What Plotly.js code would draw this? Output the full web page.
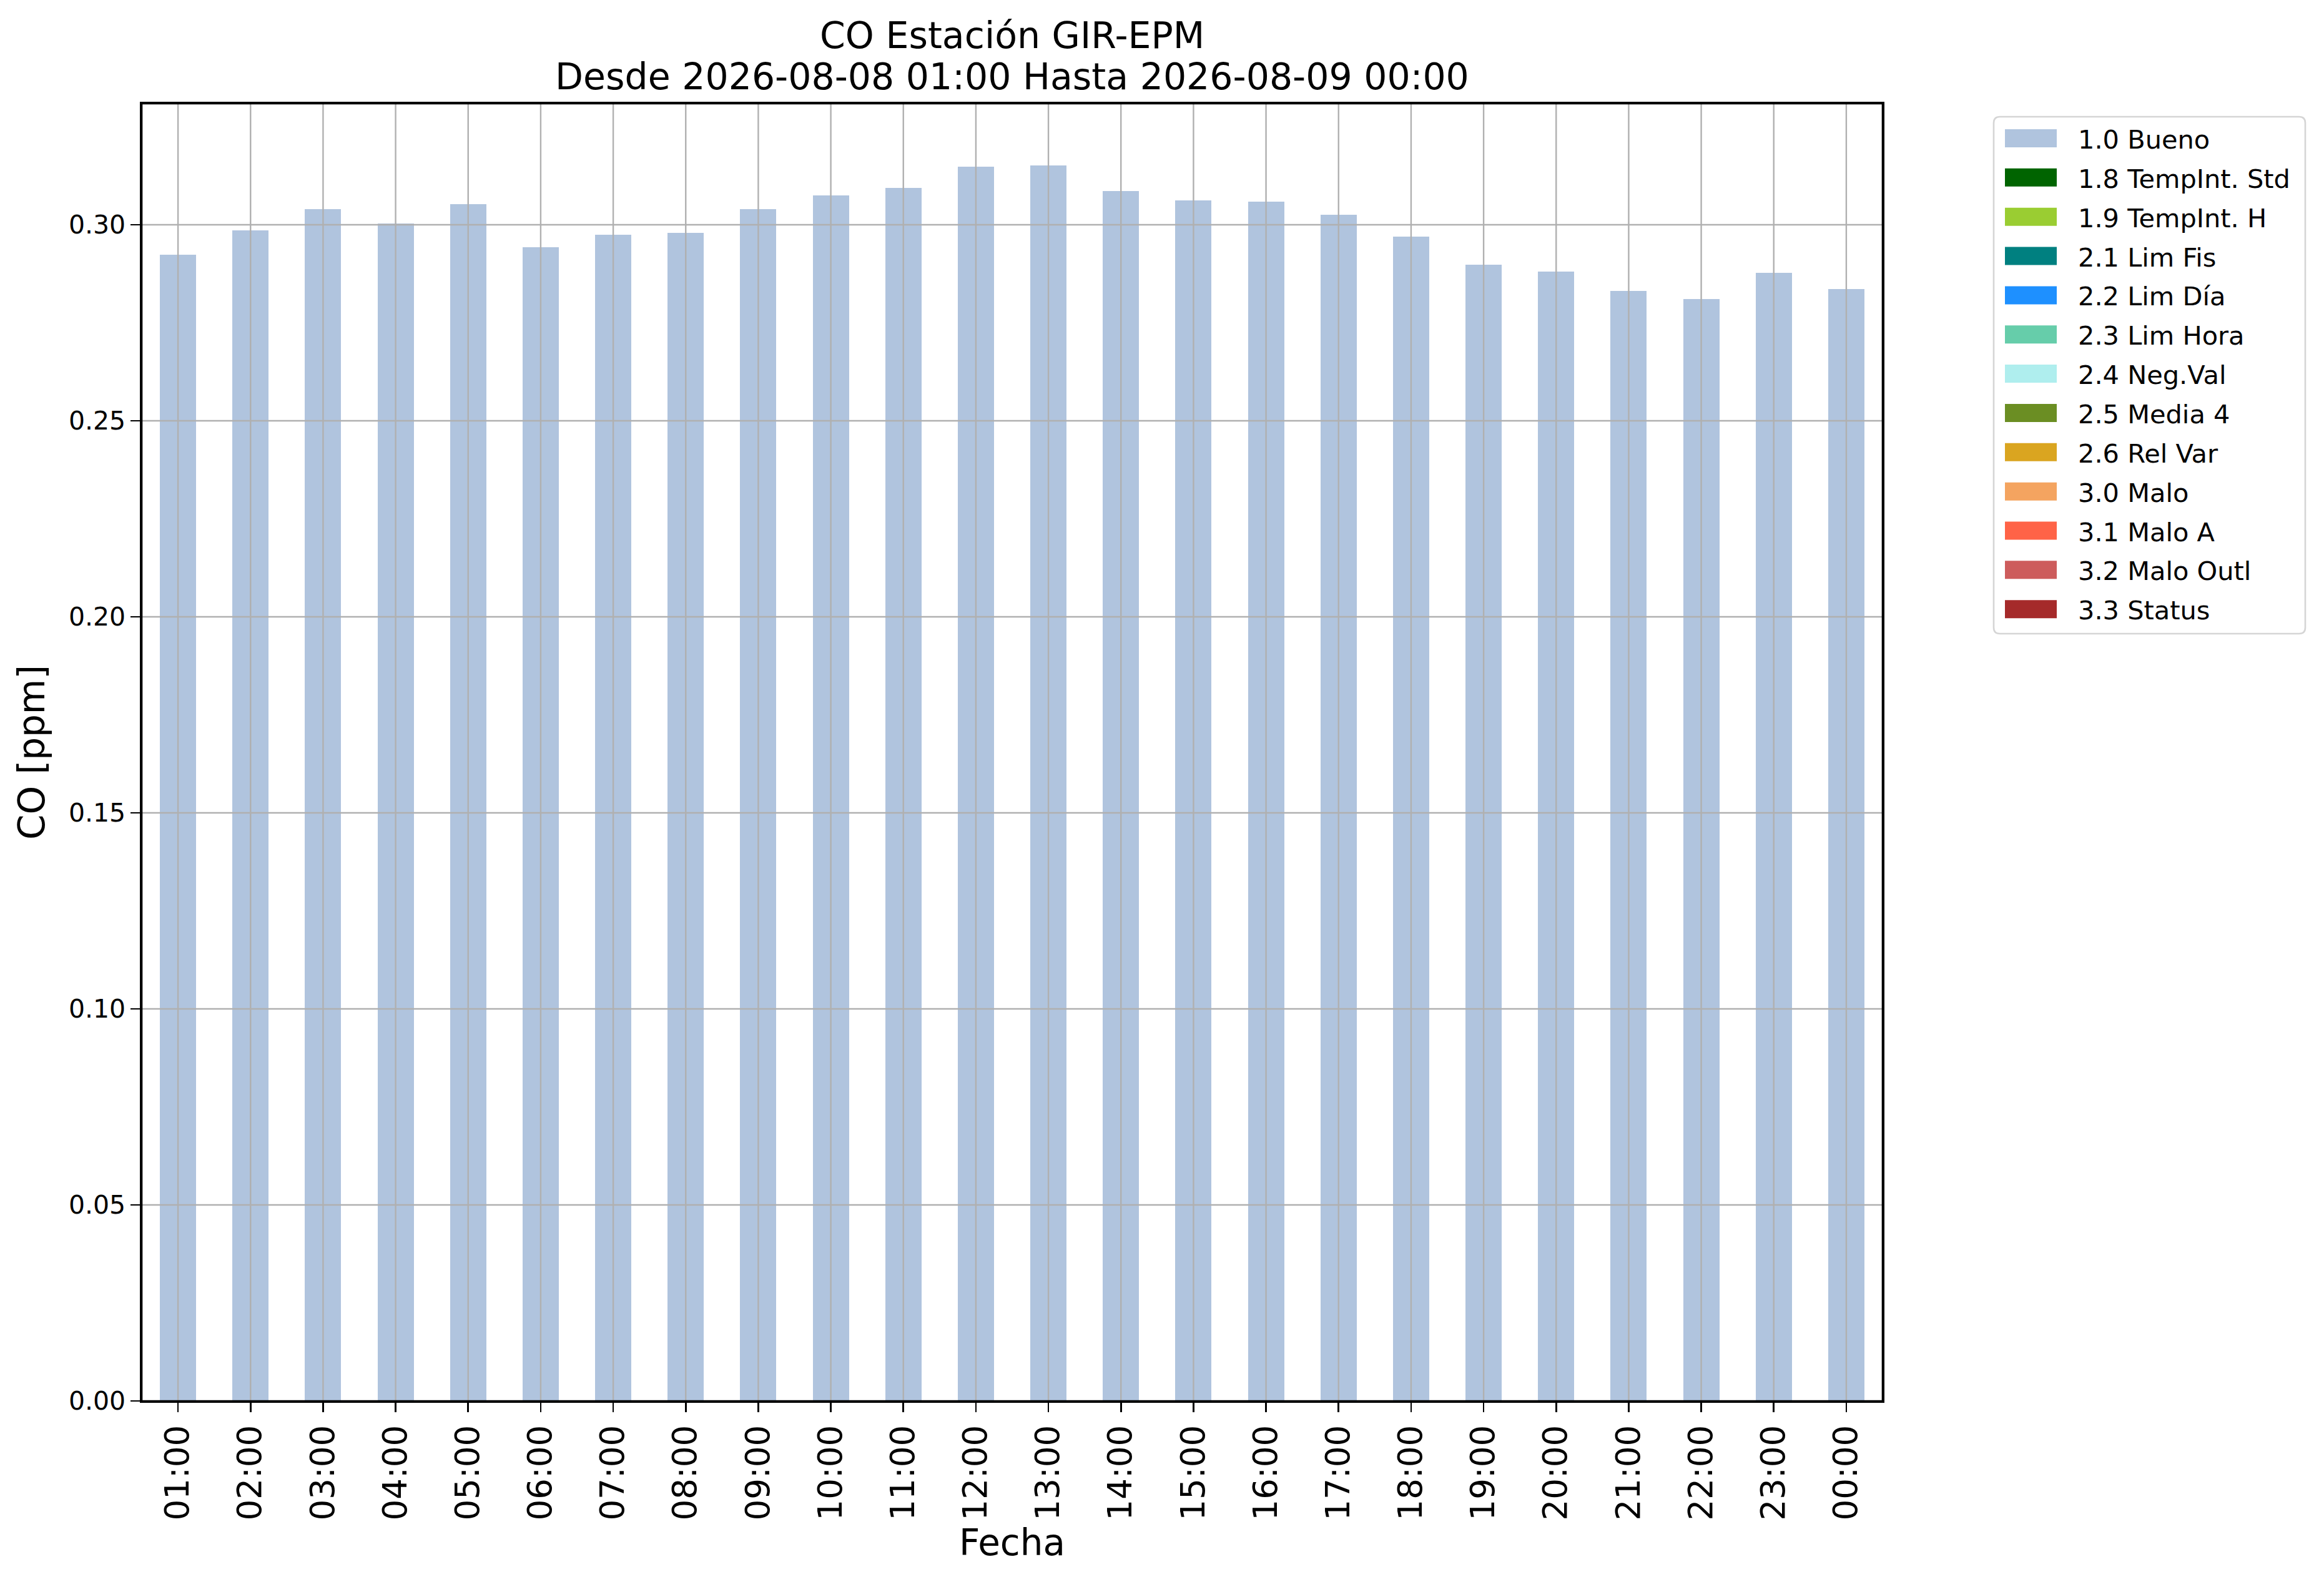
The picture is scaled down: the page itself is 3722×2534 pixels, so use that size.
<!DOCTYPE html>
<html>
<head>
<meta charset="utf-8">
<script src="https://cdn.plot.ly/plotly-3.0.1.min.js"></script>
<style>html,body{margin:0;padding:0;background:#fff;}</style>
</head>
<body>
<div id="chart" style="width:3722px;height:2534px;"></div>
<script>
// ---- data ----
const categories = ["01:00","02:00","03:00","04:00","05:00","06:00","07:00","08:00","09:00","10:00","11:00","12:00",
                    "13:00","14:00","15:00","16:00","17:00","18:00","19:00","20:00","21:00","22:00","23:00","00:00"];
const buenoValues = [0.2924,0.2986,0.3040,0.3003,0.3052,0.2943,0.2974,0.2979,0.3040,0.3075,0.3094,0.3148,
                     0.3151,0.3086,0.3062,0.3059,0.3026,0.2970,0.2898,0.2881,0.2831,0.2811,0.2878,0.2836];
const flagLabels = ["1.0 Bueno","1.8 TempInt. Std","1.9 TempInt. H","2.1 Lim Fis","2.2 Lim Día","2.3 Lim Hora",
                    "2.4 Neg.Val","2.5 Media 4","2.6 Rel Var","3.0 Malo","3.1 Malo A","3.2 Malo Outl","3.3 Status"];
const flagColors = ["#B0C4DE","#006400","#9ACD32","#008080","#1E90FF","#66CDAA",
                    "#AFEEEE","#6B8E23","#DAA520","#F4A460","#FF6347","#CD5C5C","#A52A2A"];
const yTicks = [0.00,0.05,0.10,0.15,0.20,0.25,0.30];
const titleLine1 = "CO Estación GIR-EPM";
const titleLine2 = "Desde 2026-08-08 01:00 Hasta 2026-08-09 00:00";

// ---- geometry ----
const W = 3722, H = 2534;
const L = 227, R = 3015, T = 166, B = 2244;
const px = x => (x - L) / (R - L);
const py = y => (B - y) / (B - T);
const FONT = "DejaVu Sans, Liberation Sans, sans-serif";
const GRID = "#b0b0b0";

// ---- traces: one per flag, stacked; only "Bueno" has values in this period ----
const traces = flagLabels.map((lab, i) => ({
  type: "bar",
  name: lab,
  x: categories,
  y: i === 0 ? buenoValues : categories.map(() => 0),
  marker: {color: flagColors[i], line: {width: 0}},
  width: 0.5,
  showlegend: false,
  hoverinfo: "skip"
}));

// ---- grid lines above bars (as in the original) ----
const shapes = [];
categories.forEach((c, i) => {
  shapes.push({type: "line", layer: "above", xref: "x", yref: "paper", x0: i, x1: i, y0: 0, y1: 1,
               line: {color: GRID, width: 2.4}});
});
yTicks.forEach(v => {
  if (v === 0) return;
  shapes.push({type: "line", layer: "above", xref: "paper", yref: "y", x0: 0, x1: 1, y0: v, y1: v,
               line: {color: GRID, width: 2.4}});
});
// frame
shapes.push({type: "rect", layer: "above", xref: "paper", yref: "paper", x0: 0, x1: 1, y0: 0, y1: 1,
             line: {color: "#000", width: 2.6}, fillcolor: "rgba(0,0,0,0)"});

// ---- legend (drawn as patches + text) ----
const annotations = [];
const legTop = 187, legBot = 1015, legLeft = 3193, legRight = 3692, rad = 10;
const lx0 = px(legLeft), lx1 = px(legRight), ly0 = py(legBot), ly1 = py(legTop);
const rx = rad / (R - L), ry = rad / (B - T);
shapes.push({type: "path", layer: "above", xref: "paper", yref: "paper",
  path: `M ${lx0 + rx},${ly1} L ${lx1 - rx},${ly1} Q ${lx1},${ly1} ${lx1},${ly1 - ry} L ${lx1},${ly0 + ry} Q ${lx1},${ly0} ${lx1 - rx},${ly0} ` +
        `L ${lx0 + rx},${ly0} Q ${lx0},${ly0} ${lx0},${ly0 + ry} L ${lx0},${ly1 - ry} Q ${lx0},${ly1} ${lx0 + rx},${ly1} Z`,
  line: {color: "#d5d5d5", width: 2.6}, fillcolor: "rgba(255,255,255,0.8)"});
const firstY = 221.5, stepY = 62.85;
flagLabels.forEach((lab, i) => {
  const cy = firstY + i * stepY;
  shapes.push({type: "rect", layer: "above", xref: "paper", yref: "paper",
               x0: px(3211), x1: px(3294), y0: py(cy + 14.5), y1: py(cy - 14.5),
               line: {width: 0}, fillcolor: flagColors[i]});
  annotations.push({xref: "paper", yref: "paper", x: px(3326), y: py(cy + 2), xanchor: "left", yanchor: "middle",
                    text: lab, showarrow: false, font: {family: FONT, size: 41.5, color: "#000"}});
});

// ---- two-line title ----
annotations.push({xref: "paper", yref: "paper", x: 0.5, y: py(57), xanchor: "center", yanchor: "middle",
                  text: titleLine1, showarrow: false, font: {family: FONT, size: 58.5, color: "#000"}});
annotations.push({xref: "paper", yref: "paper", x: 0.5, y: py(123), xanchor: "center", yanchor: "middle",
                  text: titleLine2, showarrow: false, font: {family: FONT, size: 58.5, color: "#000"}});

const layout = {
  width: W, height: H,
  paper_bgcolor: "#fff", plot_bgcolor: "#fff",
  margin: {l: L, r: W - R, t: T, b: H - B, pad: 0},
  showlegend: false,
  barmode: "stack",
  font: {family: FONT, color: "#000"},
  xaxis: {
    type: "category",
    range: [-0.5, 23.5],
    showgrid: false, zeroline: false,
    showline: true, linecolor: "#000", linewidth: 2.6, mirror: true,
    ticks: "outside", ticklen: 15, tickwidth: 2.6, tickcolor: "#000",
    tickangle: -90,
    tickfont: {family: FONT, size: 53, color: "#000"},
    title: {text: "Fecha", font: {family: FONT, size: 58, color: "#000"}, standoff: 16},
    automargin: false, fixedrange: true
  },
  yaxis: {
    range: [0, 0.3309],
    tickvals: yTicks,
    ticktext: yTicks.map(v => v.toFixed(2)),
    showgrid: false, zeroline: false,
    showline: true, linecolor: "#000", linewidth: 2.6, mirror: true,
    ticks: "outside", ticklen: 15, tickwidth: 2.6, tickcolor: "#000",
    tickfont: {family: FONT, size: 41, color: "#000"},
    title: {text: "CO [ppm]", font: {family: FONT, size: 58, color: "#000"}, standoff: 20},
    automargin: false, fixedrange: true
  },
  shapes: shapes,
  annotations: annotations
};

Plotly.newPlot("chart", traces, layout, {staticPlot: true, displayModeBar: false});
</script>
</body>
</html>
